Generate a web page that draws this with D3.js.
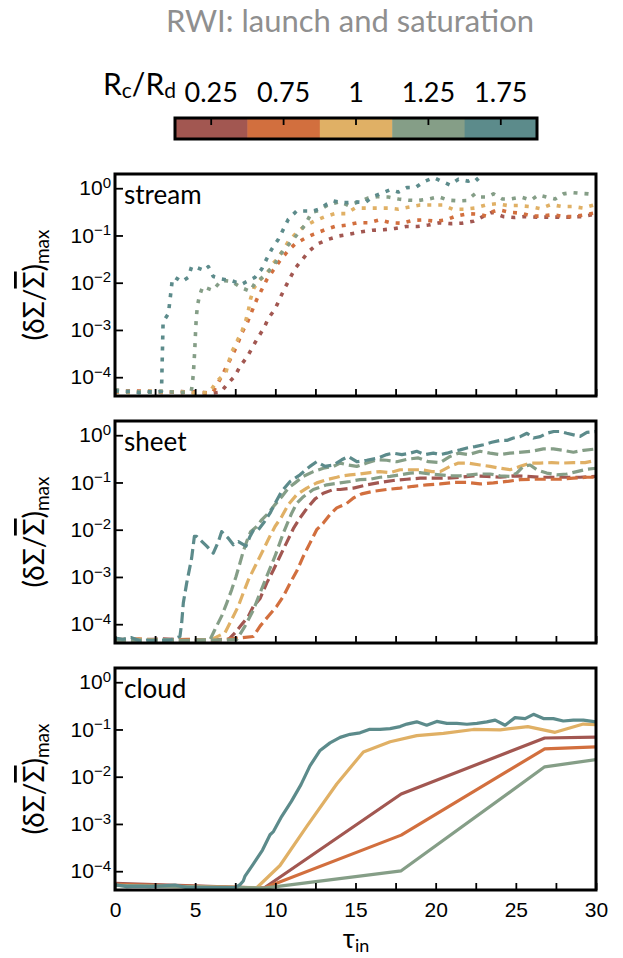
<!DOCTYPE html>
<html>
<head>
<meta charset="utf-8">
<script src="https://cdn.jsdelivr.net/npm/d3@7"></script>
<style>
  body { margin: 0; background: #fff; }
</style>
</head>
<body>
<div id="chart"></div>
<script>
// ---- data (tau_in, (dSigma/Sigma)_max) ----
var rLabels = ["0.25", "0.75", "1", "1.25", "1.75"];
var rColors = ["#a25751", "#d26f3e", "#e0b065", "#859e87", "#5c8b8b"];
var yTickValues = [1e-4, 1e-3, 1e-2, 1e-1, 1];
var xTickValues = [0, 2.5, 5, 7.5, 10, 12.5, 15, 17.5, 20, 22.5, 25, 27.5, 30];
var panelNames = ["stream", "sheet", "cloud"];

var streamR025 = [[0,5.3e-5],[1,4.9e-5],[2,5.1e-5],[3,4.7e-5],[4,5.0e-5],[5,4.8e-5],[6,4.6e-5],[6.6,4.8e-5],[6.97,6.9e-5],[7.49,1.07e-4],[7.8,1.7e-4],[8.26,2.75e-4],[8.59,4.4e-4],[8.94,7.1e-4],[9.29,1.1e-3],[9.57,1.78e-3],[9.98,2.75e-3],[10.29,4.7e-3],[10.6,7.8e-3],[10.92,1.26e-2],[11.23,2.0e-2],[11.65,3.0e-2],[12.12,4.7e-2],[12.62,6.6e-2],[13.31,8.3e-2],[13.99,9.8e-2],[14.66,0.107],[15.39,0.12],[16.07,0.129],[16.74,0.132],[17.47,0.141],[18.15,0.155],[18.86,0.155],[19.55,0.166],[20.23,0.186],[20.96,0.178],[21.63,0.182],[22.35,0.2],[22.94,0.251],[23.5,0.309],[24.22,0.251],[24.91,0.24],[25.58,0.251],[26.31,0.245],[27.03,0.245],[27.76,0.245],[28.38,0.245],[29.11,0.251],[29.74,0.275],[30,0.27]];
var streamR075 = [[0,4.8e-5],[1,5.2e-5],[2,4.9e-5],[3,5.0e-5],[4,4.7e-5],[5,4.9e-5],[5.8,4.6e-5],[6.13,5.0e-5],[6.45,7.8e-5],[6.76,1.23e-4],[7.07,2.0e-4],[7.38,3.2e-4],[7.63,4.9e-4],[7.9,8.5e-4],[8.26,1.45e-3],[8.53,2.45e-3],[8.84,4.4e-3],[9.15,7.1e-3],[9.46,1.15e-2],[9.88,1.86e-2],[10.29,2.95e-2],[10.81,4.8e-2],[11.23,6.6e-2],[11.85,8.7e-2],[12.41,0.107],[13.1,0.132],[13.72,0.155],[14.45,0.166],[15.12,0.186],[15.86,0.186],[16.49,0.214],[17.2,0.186],[17.88,0.182],[18.57,0.209],[19.23,0.214],[19.96,0.2],[20.65,0.214],[21.27,0.257],[21.98,0.288],[22.66,0.282],[23.19,0.257],[23.6,0.324],[23.97,0.347],[24.64,0.309],[25.37,0.295],[26,0.257],[26.62,0.257],[27.31,0.275],[28.01,0.251],[28.59,0.251],[29.32,0.275],[29.84,0.295],[30,0.3]];
var streamR1 = [[0,5.0e-5],[1,4.7e-5],[2,5.1e-5],[3,4.8e-5],[4,5.0e-5],[5,4.6e-5],[5.9,4.8e-5],[6.34,8.1e-5],[6.92,1.26e-4],[7.07,2.0e-4],[7.28,3.4e-4],[7.59,5.6e-4],[7.9,9.1e-4],[8.15,1.55e-3],[8.32,2.6e-3],[8.45,4.5e-3],[8.67,7.8e-3],[9.05,1.15e-2],[9.5,1.58e-2],[9.88,2.6e-2],[10.13,3.2e-2],[10.5,5.0e-2],[10.81,7.4e-2],[11.33,0.115],[11.79,0.155],[12.41,0.2],[13.1,0.25],[13.72,0.29],[14.41,0.29],[14.97,0.38],[15.66,0.38],[16.33,0.38],[17.05,0.38],[17.67,0.36],[18.36,0.4],[19.03,0.44],[19.76,0.44],[20.44,0.44],[21.07,0.36],[21.77,0.36],[22.46,0.38],[23.12,0.44],[23.81,0.47],[24.5,0.43],[25.16,0.43],[25.85,0.41],[26.51,0.37],[27.18,0.45],[27.87,0.41],[28.55,0.41],[29.21,0.38],[29.84,0.44],[30,0.43]];
var streamR125 = [[0,5.4e-5],[1,5.0e-5],[2,4.8e-5],[3,5.1e-5],[4,4.7e-5],[4.75,5.0e-5],[4.82,6.9e-5],[4.89,1.23e-4],[4.97,3.5e-4],[5.03,1.0e-3],[5.07,1.8e-3],[5.14,3.2e-3],[5.26,5.2e-3],[5.47,8.3e-3],[6.09,6.9e-3],[6.65,1.12e-2],[7.28,1.07e-2],[7.9,7.8e-3],[8.42,6.6e-3],[8.73,9.8e-3],[9.15,1.26e-2],[9.56,1.74e-2],[9.88,2.2e-2],[10.29,3.9e-2],[10.81,6.3e-2],[11.33,0.102],[11.85,0.166],[12.27,0.31],[12.75,0.34],[13.3,0.45],[14.04,0.52],[14.56,0.43],[15.08,0.5],[15.8,0.62],[16.33,0.66],[17.05,0.65],[17.67,0.59],[18.3,0.56],[18.92,0.55],[19.55,0.59],[20.17,0.66],[20.79,0.56],[21.42,0.54],[21.94,0.55],[22.46,0.76],[22.77,0.65],[23.19,0.65],[23.6,0.76],[24.16,0.59],[24.68,0.59],[25.33,0.65],[25.95,0.56],[26.41,0.72],[26.93,0.65],[27.45,0.59],[27.97,0.76],[28.49,0.81],[29.01,0.78],[29.53,0.76],[30,0.72]];
var streamR175 = [[0,5.2e-5],[0.5,4.8e-5],[1,5.0e-5],[1.5,4.7e-5],[2,5.0e-5],[2.5,4.8e-5],[2.9,5.0e-5],[3.0,1.5e-3],[3.33,2.2e-3],[3.49,6.5e-3],[3.58,1.2e-2],[3.74,1.3e-2],[4.16,1.05e-2],[4.57,1.3e-2],[4.78,2.2e-2],[5.09,2.1e-2],[5.61,1.8e-2],[5.82,2.2e-2],[6.13,1.35e-2],[6.65,1.2e-2],[7.28,1.1e-2],[7.9,9.3e-3],[8.32,1.1e-2],[8.73,1.3e-2],[9.15,1.95e-2],[9.46,3.2e-2],[9.77,5.1e-2],[10.19,8.3e-2],[10.81,0.22],[11.33,0.33],[11.85,0.33],[12.37,0.33],[12.79,0.37],[13.2,0.46],[13.62,0.54],[14.04,0.5],[14.56,0.5],[15.08,0.51],[15.6,0.5],[16.12,0.67],[16.64,0.79],[17.16,0.93],[17.67,0.83],[18.2,1.03],[18.75,1.04],[19.25,1.37],[19.89,1.68],[20.41,1.38],[20.9,1.17],[21.42,1.55],[22.04,1.41],[22.5,1.66],[22.9,1.17]];

var sheetR025 = [[0,4.8e-5],[1.5,4.6e-5],[3,4.9e-5],[4.5,4.6e-5],[6,4.5e-5],[7.07,4.7e-5],[7.49,6.6e-5],[7.9,9.8e-5],[8.32,1.48e-4],[8.63,2.4e-4],[9.05,3.5e-4],[9.46,7.4e-4],[9.88,1.4e-3],[10.29,2.75e-3],[10.71,5.4e-3],[11.12,1.05e-2],[11.54,1.78e-2],[11.96,2.8e-2],[12.48,4.5e-2],[12.99,5.9e-2],[13.62,7.1e-2],[14.04,7.1e-2],[14.87,7.6e-2],[15.7,8.9e-2],[16.53,0.1],[17.36,0.11],[18.2,0.117],[19.03,0.123],[19.86,0.123],[20.7,0.123],[21.52,0.129],[22.35,0.138],[23.19,0.135],[24.02,0.129],[24.85,0.138],[25.69,0.135],[26.51,0.129],[27.34,0.129],[28.18,0.129],[29.01,0.129],[30,0.135]];
var sheetR075 = [[0,4.7e-5],[1.5,4.9e-5],[3,4.6e-5],[4.5,4.8e-5],[6,4.6e-5],[7.8,5.1e-5],[8.63,5.5e-5],[9.05,9.1e-5],[9.56,1.48e-4],[10.09,2.4e-4],[10.5,3.9e-4],[10.92,7.4e-4],[11.33,1.32e-3],[11.75,2.75e-3],[12.16,5.2e-3],[12.58,1.0e-2],[12.99,1.38e-2],[13.41,2.1e-2],[13.83,2.9e-2],[14.45,3.6e-2],[14.87,4.7e-2],[15.39,5.75e-2],[16.12,6.5e-2],[16.95,7.1e-2],[17.78,7.6e-2],[18.61,8.3e-2],[19.44,8.9e-2],[20.28,9.3e-2],[21.11,0.1],[21.94,0.1],[22.77,0.093],[23.6,0.098],[24.44,0.105],[25.27,0.115],[26.1,0.117],[26.93,0.117],[27.76,0.117],[28.59,0.123],[29.43,0.129],[30,0.129]];
var sheetR1 = [[0,4.5e-5],[1.5,4.8e-5],[3,4.6e-5],[4.5,4.5e-5],[6,4.7e-5],[6.86,6.6e-5],[7.28,1.26e-4],[7.69,2.4e-4],[8.0,4.6e-4],[8.32,8.7e-4],[8.73,1.66e-3],[9.15,3.2e-3],[9.56,6.2e-3],[9.98,1.17e-2],[10.4,1.9e-2],[10.81,3.4e-2],[11.33,5.5e-2],[11.96,7.6e-2],[12.58,9.8e-2],[13.21,0.115],[13.83,0.129],[14.04,0.135],[14.66,0.145],[15.28,0.151],[15.91,0.162],[16.53,0.17],[17.16,0.162],[17.78,0.186],[18.4,0.186],[19.13,0.186],[19.76,0.17],[20.28,0.17],[20.9,0.219],[21.42,0.257],[22.04,0.257],[22.77,0.234],[23.39,0.219],[24.02,0.2],[24.64,0.186],[25.27,0.219],[25.89,0.257],[26.51,0.257],[27.24,0.263],[27.87,0.257],[28.59,0.263],[29.32,0.263],[30,0.295]];
var sheetR125a = [[0,4.6e-5],[1.5,4.4e-5],[3,4.7e-5],[4.5,4.5e-5],[6,4.6e-5],[7.59,4.7e-5],[8.11,9.1e-5],[8.63,2.0e-4],[9.05,4.6e-4],[9.46,1.02e-3],[9.98,2.75e-3],[10.5,8.5e-3],[11.02,2.24e-2],[11.33,3.6e-2],[11.75,5.0e-2],[12.37,7.1e-2],[13.21,8.9e-2],[14.04,9.8e-2],[14.66,0.105],[15.28,0.115],[15.91,0.117],[16.53,0.129],[17.16,0.135],[17.78,0.145],[18.4,0.158],[19.03,0.162],[19.65,0.151],[20.28,0.145],[20.9,0.138],[21.52,0.138],[22.15,0.145],[22.77,0.151],[23.39,0.151],[24.02,0.138],[24.64,0.135],[25.06,0.158],[25.47,0.219],[25.89,0.234],[26.31,0.186],[26.93,0.158],[27.55,0.145],[28.18,0.151],[28.8,0.17],[29.43,0.191],[30,0.2]];
var sheetR125b = [[0,4.6e-5],[1,4.9e-5],[2,4.5e-5],[3,4.7e-5],[4,4.5e-5],[5,4.6e-5],[5.93,4.7e-5],[6.24,7.8e-5],[6.65,1.48e-4],[6.97,2.8e-4],[7.28,5.4e-4],[7.55,1.02e-3],[7.8,2.0e-3],[8.0,3.5e-3],[8.26,6.2e-3],[8.46,9.1e-3],[8.84,1.17e-2],[9.15,1.62e-2],[9.56,2.24e-2],[9.98,3.4e-2],[10.4,5.0e-2],[10.81,7.6e-2],[11.23,9.8e-2],[11.75,0.135],[12.37,0.17],[12.99,0.2],[13.62,0.219],[14.04,0.257],[14.56,0.234],[15.08,0.219],[15.7,0.257],[16.33,0.302],[16.95,0.295],[17.57,0.275],[18.2,0.309],[18.92,0.331],[19.55,0.275],[20.28,0.263],[20.9,0.355],[21.42,0.417],[22.04,0.389],[22.77,0.457],[23.39,0.417],[24.02,0.389],[24.64,0.417],[25.37,0.437],[25.99,0.457],[26.72,0.513],[27.34,0.513],[27.96,0.479],[28.59,0.437],[29.21,0.479],[30,0.513]];
var sheetR175 = [[0,5.1e-5],[0.5,4.8e-5],[1,5.2e-5],[1.56,4.4e-5],[2,4.6e-5],[2.6,4.5e-5],[3.43,4.6e-5],[4.05,5.5e-5],[4.16,1.07e-4],[4.26,2.8e-4],[4.47,7.4e-4],[4.78,2.5e-3],[4.95,7.2e-3],[5.09,7.2e-3],[5.72,4.5e-3],[6.13,3.2e-3],[6.45,5.6e-3],[6.65,9.1e-3],[7.07,6.6e-3],[7.38,4.8e-3],[7.69,5.6e-3],[8.17,4.5e-3],[8.42,7.2e-3],[8.67,1.02e-2],[8.94,1.0e-2],[9.26,1.38e-2],[9.67,2.24e-2],[9.98,3.6e-2],[10.4,6.5e-2],[10.92,0.105],[11.54,0.145],[12.16,0.219],[12.58,0.275],[13.1,0.219],[13.62,0.234],[14.14,0.302],[14.56,0.355],[15.08,0.275],[15.7,0.295],[16.43,0.331],[16.95,0.389],[17.36,0.417],[17.89,0.389],[18.4,0.417],[18.82,0.457],[19.34,0.389],[19.86,0.417],[20.28,0.389],[20.7,0.417],[21.11,0.457],[21.53,0.49],[21.95,0.537],[22.46,0.575],[22.98,0.63],[23.5,0.708],[24.02,0.776],[24.44,0.776],[24.85,0.871],[25.27,0.933],[25.69,1.1],[26.1,0.871],[26.52,0.933],[26.94,1.1],[27.36,1.2],[27.76,1.2],[28.18,1.1],[28.6,1.02],[29.01,0.95],[29.43,1.15],[30,1.2]];

var cloudR025 = [[0,5.5e-5],[9.3,4.4e-5],[17.85,4.3e-3],[26.8,6.6e-2],[30,6.9e-2]];
var cloudR075 = [[0,5.3e-5],[9.3,4.4e-5],[17.85,5.8e-4],[26.8,3.9e-2],[30,4.3e-2]];
var cloudR1 = [[0,5.0e-5],[2,4.8e-5],[4,4.7e-5],[6,4.6e-5],[8.84,4.47e-5],[10.29,1.32e-4],[11.96,8.9e-4],[13.83,7.0e-3],[15.49,3.35e-2],[17.16,5.5e-2],[18.82,7.4e-2],[20.48,8.3e-2],[22.36,0.1],[24.02,0.098],[25.75,0.115],[27.45,0.087],[29.21,0.13],[30,0.126]];
var cloudR125 = [[0,5.0e-5],[9.3,4.4e-5],[17.85,1.02e-4],[26.8,1.62e-2],[30,2.3e-2]];
var cloudR175 = [[0,5.2e-5],[0.73,4.7e-5],[1.5,4.8e-5],[2.18,4.7e-5],[3.0,4.9e-5],[3.74,5.1e-5],[4.47,4.5e-5],[5.5,4.5e-5],[6.5,4.5e-5],[7.49,4.5e-5],[7.8,5.2e-5],[8.0,6.2e-5],[8.11,7.9e-5],[8.6,1.38e-4],[9.2,2.8e-4],[9.67,5.9e-4],[9.88,6.9e-4],[10.4,1.45e-3],[11.0,3.0e-3],[11.6,6.8e-3],[12.16,1.7e-2],[12.79,3.6e-2],[13.41,5.2e-2],[14.04,6.8e-2],[14.66,7.9e-2],[15.28,8.5e-2],[15.85,0.1],[16.53,0.1],[17.16,0.104],[17.78,0.115],[18.2,0.13],[18.82,0.145],[19.44,0.123],[20.07,0.148],[20.7,0.135],[21.32,0.135],[21.95,0.129],[22.57,0.135],[23.19,0.145],[23.71,0.158],[24.33,0.123],[24.95,0.178],[25.58,0.17],[26.1,0.209],[26.72,0.17],[27.34,0.17],[27.96,0.151],[28.59,0.158],[29.21,0.158],[30,0.145]];

// ---- layout ----
var width = 623, height = 958;
var left = 115, right = 596, panelH = 222;
var tops = [174, 421, 668];

var color = d3.scaleOrdinal().domain(rLabels).range(rColors);

var panels = [
  { name: panelNames[0], dash: "4,7", lw: 3.6,
    series: [["0.25", streamR025], ["0.75", streamR075], ["1", streamR1], ["1.25", streamR125], ["1.75", streamR175]] },
  { name: panelNames[1], dash: "11,5", lw: 3.2,
    series: [["0.25", sheetR025], ["0.75", sheetR075], ["1", sheetR1], ["1.25", sheetR125a], ["1.25", sheetR125b], ["1.75", sheetR175]] },
  { name: panelNames[2], dash: null, lw: 3.2,
    series: [["0.25", cloudR025], ["0.75", cloudR075], ["1", cloudR1], ["1.25", cloudR125], ["1.75", cloudR175]] }
];

var svg = d3.select("#chart")
  .append("svg")
    .attr("width", width)
    .attr("height", height)
    .style("font-family", "Lato, 'Open Sans', sans-serif");

var x = d3.scaleLinear().domain([0, 30]).range([left, right]);

// title
svg.append("text")
  .attr("x", 350).attr("y", 32)
  .attr("text-anchor", "middle")
  .attr("font-size", 31)
  .attr("fill", "#8f8f8f")
  .text("RWI: launch and saturation");

// ---- colorbar ----
var cbX0 = 175, cbX1 = 537, cbY = 118, cbH = 21;
var cb = d3.scaleBand().domain(rLabels).range([cbX0, cbX1]);

svg.append("g").selectAll("rect")
  .data(rLabels)
  .enter().append("rect")
    .attr("x", function(d) { return cb(d); })
    .attr("y", cbY)
    .attr("width", cb.bandwidth() + 0.5)
    .attr("height", cbH)
    .attr("fill", color);

svg.append("g").selectAll("line")
  .data(rLabels)
  .enter().append("line")
    .attr("x1", function(d) { return cb(d) + cb.bandwidth() / 2; })
    .attr("x2", function(d) { return cb(d) + cb.bandwidth() / 2; })
    .attr("y1", cbY).attr("y2", cbY + 7)
    .attr("stroke", "#000").attr("stroke-width", 1.8);

svg.append("rect")
  .attr("x", cbX0).attr("y", cbY)
  .attr("width", cbX1 - cbX0).attr("height", cbH)
  .attr("fill", "none").attr("stroke", "#000").attr("stroke-width", 3);

svg.append("g").selectAll("text")
  .data(rLabels)
  .enter().append("text")
    .attr("x", function(d) { return cb(d) + cb.bandwidth() / 2; })
    .attr("y", 102)
    .attr("text-anchor", "middle")
    .attr("font-size", 27)
    .text(function(d) { return d; });

var rl = svg.append("text").attr("x", 103).attr("y", 95).attr("font-size", 30);
rl.append("tspan").text("R");
rl.append("tspan").attr("font-size", 21).attr("dy", 3).text("c");
rl.append("tspan").attr("dy", -3).text("/R");
rl.append("tspan").attr("font-size", 21).attr("dy", 3).text("d");

// ---- panels ----
var line = d3.line();

panels.forEach(function(p, i) {
  var top = tops[i];
  var y = d3.scaleLog().domain([4e-5, 2]).range([top + panelH, top]);
  line.x(function(d) { return x(d[0]); }).y(function(d) { return y(d[1]); });

  svg.append("clipPath").attr("id", "clip" + i)
    .append("rect").attr("x", left).attr("y", top).attr("width", right - left).attr("height", panelH);

  svg.append("g")
    .attr("clip-path", "url(#clip" + i + ")")
    .selectAll("path")
    .data(p.series)
    .enter().append("path")
      .attr("d", function(d) { return line(d[1]); })
      .attr("fill", "none")
      .attr("stroke", function(d) { return color(d[0]); })
      .attr("stroke-width", p.lw)
      .attr("stroke-dasharray", p.dash)
      .attr("stroke-linejoin", "round");

  // y axis
  var ya = svg.append("g")
    .attr("transform", "translate(" + left + ",0)")
    .call(d3.axisLeft(y).tickValues(yTickValues).tickSize(-8).tickPadding(4));
  ya.select(".domain").remove();
  ya.selectAll(".tick line").attr("stroke-width", 1.8);
  ya.selectAll(".tick text")
    .attr("font-size", 21)
    .attr("fill", "#000")
    .text(null)
    .each(function(d) {
      var t = d3.select(this);
      var e = Math.round(Math.log10(d));
      t.append("tspan").text("10");
      t.append("tspan").attr("font-size", 15).attr("dy", "-0.5em")
        .text(e < 0 ? "\u2212" + (-e) : e);
    });

  // x axis
  var xa = svg.append("g")
    .attr("transform", "translate(0," + (top + panelH) + ")")
    .call(d3.axisBottom(x).tickValues(xTickValues).tickSize(-7).tickPadding(12)
      .tickFormat(function(d) { return (i === 2 && d % 5 === 0) ? d : ""; }));
  xa.select(".domain").remove();
  xa.selectAll(".tick line").attr("stroke-width", 1.8);
  xa.selectAll(".tick text").attr("font-size", 21).attr("fill", "#000");

  // frame
  svg.append("rect")
    .attr("x", left).attr("y", top)
    .attr("width", right - left).attr("height", panelH)
    .attr("fill", "none").attr("stroke", "#000").attr("stroke-width", 3);

  svg.append("text")
    .attr("x", 124).attr("y", top + 30)
    .attr("font-size", 26)
    .text(p.name);

  // y label
  var yl = svg.append("text")
    .attr("transform", "translate(44," + (top + panelH / 2) + ") rotate(-90)")
    .attr("text-anchor", "middle")
    .attr("font-size", 28);
  yl.append("tspan").text("(\u03b4\u03a3/");
  yl.append("tspan").style("text-decoration", "overline").text("\u03a3");
  yl.append("tspan").text(")");
  yl.append("tspan").attr("font-size", 19).attr("dy", 5).text("max");
});

// x label
var xl = svg.append("text")
  .attr("x", 356).attr("y", 948)
  .attr("text-anchor", "middle")
  .attr("font-size", 26);
xl.append("tspan").text("\u03c4");
xl.append("tspan").attr("font-size", 18).attr("dy", 4).text("in");
</script>
</body>
</html>
